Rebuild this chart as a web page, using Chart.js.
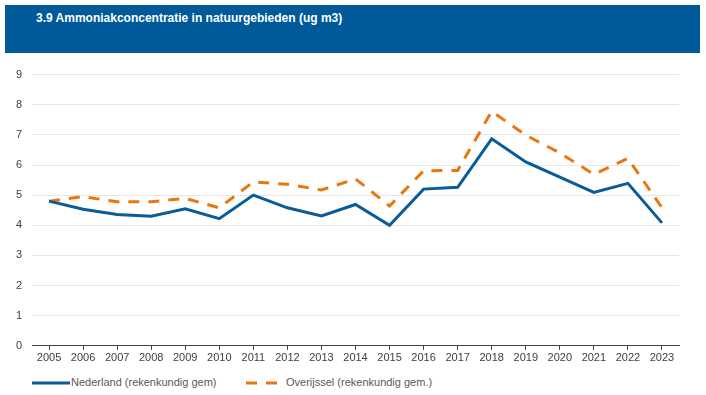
<!DOCTYPE html>
<html>
<head>
<meta charset="utf-8">
<script src="https://cdn.jsdelivr.net/npm/chart.js@4"></script>
<style>
  body { margin: 0; background: #fff; font-family: Arial, "Liberation Sans", sans-serif; }
  #wrap { position: relative; width: 706px; height: 395px; overflow: hidden; }
  #title { position: absolute; left: 5px; top: 5px; width: 695px; height: 48px; background: #005a9a; }
  #title span { position: absolute; left: 31px; top: 6px; color: #fff; font-weight: bold; font-size: 12px; }
  #box { position: absolute; left: 0; top: 58px; width: 706px; height: 309px; }
  #legend { position: absolute; top: 376px; left: 0; font-size: 11px; color: #595959; }
  .item { position: absolute; white-space: nowrap; top: 0; }
  .item svg { position: absolute; top: 2px; }
</style>
</head>
<body>
<div id="wrap">
  <div id="title"><span>3.9 Ammoniakconcentratie in natuurgebieden (ug m3)</span></div>
  <div id="box"><canvas id="chart"></canvas></div>
  <div id="legend">
    <div class="item" style="left:32px"><svg width="40" height="10"><line x1="0" y1="5" x2="38" y2="5" stroke="#0a5c98" stroke-width="3"/></svg><span style="margin-left:39px">Nederland (rekenkundig gem)</span></div>
    <div class="item" style="left:246px"><svg width="40" height="10"><line x1="0" y1="5" x2="34" y2="5" stroke="#e8770e" stroke-width="3" stroke-dasharray="11 9"/></svg><span style="margin-left:40px">Overijssel (rekenkundig gem.)</span></div>
  </div>
</div>
<script>
const years = ['2005','2006','2007','2008','2009','2010','2011','2012','2013','2014','2015','2016','2017','2018','2019','2020','2021','2022','2023'];
const nederland = [4.80, 4.53, 4.36, 4.30, 4.55, 4.22, 5.00, 4.58, 4.31, 4.69, 4.00, 5.20, 5.26, 6.87, 6.10, 5.60, 5.09, 5.39, 4.08];
const overijssel = [4.80, 4.95, 4.78, 4.78, 4.89, 4.58, 5.44, 5.36, 5.17, 5.54, 4.64, 5.81, 5.82, 7.78, 6.99, 6.40, 5.69, 6.22, 4.58];

const ctx = document.getElementById('chart').getContext('2d');
new Chart(ctx, {
    type: 'line',
    data: {
        labels: years,
        datasets: [{
            label: 'Nederland (rekenkundig gem)',
            data: nederland,
            borderColor: '#0a5c98',
            borderWidth: 3,
            pointRadius: 0,
            tension: 0,
            fill: false
        }, {
            label: 'Overijssel (rekenkundig gem.)',
            data: overijssel,
            borderColor: '#e8770e',
            borderWidth: 3,
            borderDash: [11, 9],
            pointRadius: 0,
            tension: 0,
            fill: false
        }]
    },
    options: {
        responsive: true,
        maintainAspectRatio: false,
        animation: false,
        layout: { padding: { left: 10, right: 27, top: 7, bottom: 0 } },
        plugins: {
            legend: { display: false },
            tooltip: { enabled: false }
        },
        scales: {
            x: {
                offset: true,
                grid: { drawOnChartArea: false, drawTicks: true, tickLength: 4, color: '#444' },
                border: { display: true, color: '#444', width: 1 },
                ticks: { color: '#404040', font: { family: 'Arial', size: 11 }, padding: 2, maxRotation: 0, autoSkip: false }
            },
            y: {
                min: 0,
                max: 9,
                ticks: { stepSize: 1, color: '#404040', font: { family: 'Arial', size: 11 }, padding: 10 },
                grid: { color: '#e6e6e6', drawTicks: false },
                border: { display: false },
                afterFit: function(axis) { axis.width = 22; }
            }
        }
    }
});
</script>
</body>
</html>
